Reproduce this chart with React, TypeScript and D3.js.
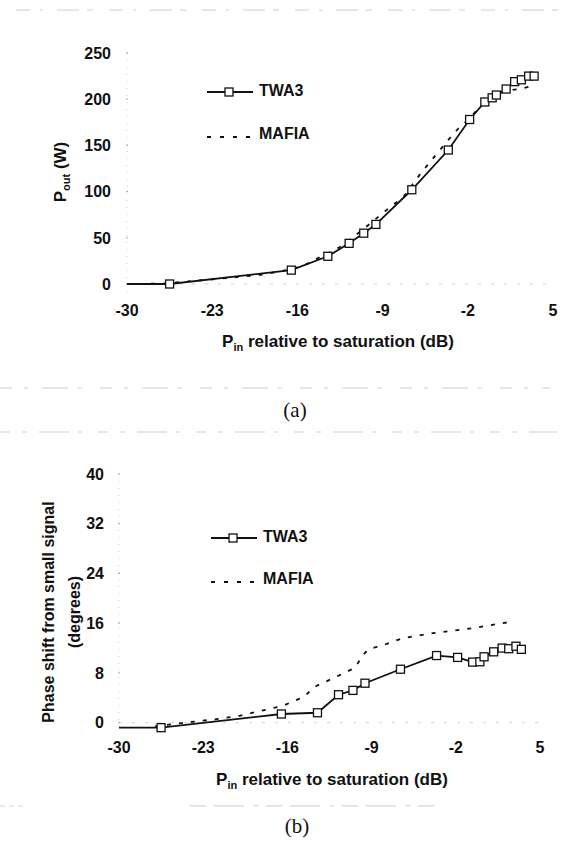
import React from "react";
import * as d3 from "d3";

// ---- data ----
const xTicks = [-30, -23, -16, -9, -2, 5];
const powerTicks = [0, 50, 100, 150, 200, 250];
const phaseTicks = [0, 8, 16, 24, 32, 40];

const pinTWA3 = [-30, -26.5, -16.5, -13.5, -11.75, -10.55, -9.55, -6.6, -3.6, -1.85, -0.6, 0, 0.35, 1.15, 1.85, 2.4, 3.0, 3.45];
const poutTWA3 = [0, 0, 15, 30, 44, 55, 64.5, 102, 145, 178, 197, 201.5, 204.5, 211, 219, 221, 225, 225];
const phaseTWA3 = [-0.8, -0.8, 1.4, 1.6, 4.5, 5.2, 6.35, 8.6, 10.8, 10.5, 9.75, 9.8, 10.6, 11.4, 12.0, 11.9, 12.3, 11.8];

const pinMafiaA = [-30, -27, -23, -19, -16.5, -15.4, -14.6, -12.5, -10.7, -8.5, -7.3, -5.8, -5.1, -3.6, -2.8, -1.8, -0.6, 0.3, 1.1, 2.15, 3.25];
const poutMafiaA = [0, 0.5, 5, 10, 16, 20.5, 26, 40, 58, 82, 94, 121, 132, 156, 168, 180, 198, 204, 209, 211, 214];

const pinMafiaB = [-27, -25, -22, -20, -16.4, -14.7, -13.6, -11.6, -10.4, -9.7, -9.3, -8, -6.4, -3.9, -0.6, 2.8];
const phaseMafiaB = [-0.6, -0.1, 0.55, 1.1, 2.7, 4.1, 5.9, 7.7, 8.8, 10.9, 11.8, 12.5, 13.6, 14.4, 15.2, 16.3];

const SANS = "'Liberation Sans', Arial, sans-serif";
const SERIF = "'Liberation Serif', 'Times New Roman', serif";

type PanelProps = {
  x0: number; x1: number; yBottom: number; yTop: number;
  yDomain: [number, number]; yTicks: number[];
  twaY: number[]; mafX: number[]; mafY: number[];
  tickLabelRight: number; xLabelBaseline: number;
  titleX: number; titleBaseline: number;
};

function Panel(p: PanelProps) {
  const x = d3.scaleLinear().domain([-30, 5]).range([p.x0, p.x1]);
  const y = d3.scaleLinear().domain(p.yDomain).range([p.yBottom, p.yTop]);
  const line = d3.line<[number, number]>().x((d) => x(d[0])).y((d) => y(d[1]));
  const twa: [number, number][] = pinTWA3.map((v, i) => [v, p.twaY[i]]);
  const maf: [number, number][] = p.mafX.map((v, i) => [v, p.mafY[i]]);
  return (
    <g>
      {/* faint axes */}
      <line x1={x(-30)} x2={x(-30)} y1={y(p.yDomain[1])} y2={y(0) + 8} stroke="#c8c8c8" strokeWidth={1} strokeDasharray="1 6" />
      <line x1={x(-30)} x2={x(5)} y1={y(0)} y2={y(0)} stroke="#cfcfcf" strokeWidth={1} strokeDasharray="3 10" />
      {p.yTicks.map((t) => (
        <g key={t}>
          <line x1={x(-30) - 1} x2={x(-30) + 1} y1={y(t)} y2={y(t)} stroke="#aaa" strokeWidth={1} />
          <text x={p.tickLabelRight} y={y(t) + 5.7} textAnchor="end" fontFamily={SANS} fontWeight="bold" fontSize={16} fill="#111">{t}</text>
        </g>
      ))}
      {xTicks.map((t) => (
        <text key={t} x={x(t)} y={p.xLabelBaseline} textAnchor="middle" fontFamily={SANS} fontWeight="bold" fontSize={16} fill="#111">{t}</text>
      ))}
      <path d={line(maf) || ""} fill="none" stroke="#111" strokeWidth={1.8} strokeDasharray="4 8" />
      <path d={line(twa) || ""} fill="none" stroke="#111" strokeWidth={1.8} />
      {twa.slice(1).map((d, i) => (
        <rect key={i} x={x(d[0]) - 4} y={y(d[1]) - 4} width={8} height={8} fill="#fff" stroke="#111" strokeWidth={1.3} />
      ))}
      <text x={p.titleX} y={p.titleBaseline} textAnchor="middle" fontFamily={SANS} fontWeight="bold" fontSize={17} fill="#111">
        P<tspan fontSize={11} dy={4}>in</tspan><tspan dy={-4}> relative to saturation (dB)</tspan>
      </text>
    </g>
  );
}

function Legend({ x0, yTwa, yMaf, textX }: { x0: number; yTwa: number; yMaf: number; textX: number }) {
  return (
    <g>
      <line x1={x0} x2={x0 + 46} y1={yTwa} y2={yTwa} stroke="#111" strokeWidth={1.8} />
      <rect x={x0 + 22 - 4} y={yTwa - 4} width={8} height={8} fill="#fff" stroke="#111" strokeWidth={1.3} />
      <text x={textX} y={yTwa + 4} fontFamily={SANS} fontWeight="bold" fontSize={16} fill="#111">TWA3</text>
      <line x1={x0} x2={x0 + 46} y1={yMaf} y2={yMaf} stroke="#111" strokeWidth={1.8} strokeDasharray="4 9" />
      <text x={textX} y={yMaf + 2} fontFamily={SANS} fontWeight="bold" fontSize={16} fill="#111">MAFIA</text>
    </g>
  );
}

export default function App() {
  return (
    <svg width={566} height={841} style={{ position: "absolute", left: 0, top: 0, background: "#fff" }}>
      <rect width={566} height={841} fill="#fff" />
      {/* faint scan separators */}
      <line x1={16} x2={560} y1={10} y2={10} stroke="#cdcdcd" strokeWidth={1} strokeDasharray="14 10 3 14 22 8 6 16" />
      <line x1={0} x2={550} y1={388} y2={388} stroke="#cdcdcd" strokeWidth={1} strokeDasharray="12 12 4 14 26 9 5 18" />
      <line x1={0} x2={557} y1={432} y2={432} stroke="#cdcdcd" strokeWidth={1} strokeDasharray="10 12 5 12 30 9 4 16" />
      <line x1={0} x2={25} y1={806} y2={806} stroke="#cdcdcd" strokeWidth={1} strokeDasharray="5 4" />
      <line x1={190} x2={435} y1={806} y2={806} stroke="#cdcdcd" strokeWidth={1} strokeDasharray="16 8 30 10 4 8" />

      {/* panel (a) */}
      <Panel x0={127} x1={553} yBottom={284} yTop={53} yDomain={[0, 250]} yTicks={powerTicks}
        twaY={poutTWA3} mafX={pinMafiaA} mafY={poutMafiaA}
        tickLabelRight={111} xLabelBaseline={316} titleX={338} titleBaseline={347} />
      <Legend x0={207} yTwa={92} yMaf={137} textX={259} />
      <text transform="translate(66,172) rotate(-90)" textAnchor="middle" fontFamily={SANS} fontWeight="bold" fontSize={17} fill="#111">
        P<tspan fontSize={11} dy={4}>out</tspan><tspan dy={-4}> (W)</tspan>
      </text>
      <text x={295} y={417} textAnchor="middle" fontFamily={SERIF} fontSize={21} fill="#111">(a)</text>

      {/* panel (b) */}
      <Panel x0={119} x1={540} yBottom={722.7} yTop={474} yDomain={[0, 40]} yTicks={phaseTicks}
        twaY={phaseTWA3} mafX={pinMafiaB} mafY={phaseMafiaB}
        tickLabelRight={104} xLabelBaseline={753} titleX={332} titleBaseline={785} />
      <Legend x0={211} yTwa={538} yMaf={582} textX={263} />
      <text transform="translate(54,612) rotate(-90)" textAnchor="middle" fontFamily={SANS} fontWeight="bold" fontSize={16} fill="#111">Phase shift from small signal</text>
      <text transform="translate(80,612) rotate(-90)" textAnchor="middle" fontFamily={SANS} fontWeight="bold" fontSize={16} fill="#111">(degrees)</text>
      <text x={297} y={833} textAnchor="middle" fontFamily={SERIF} fontSize={21} fill="#111">(b)</text>
    </svg>
  );
}
